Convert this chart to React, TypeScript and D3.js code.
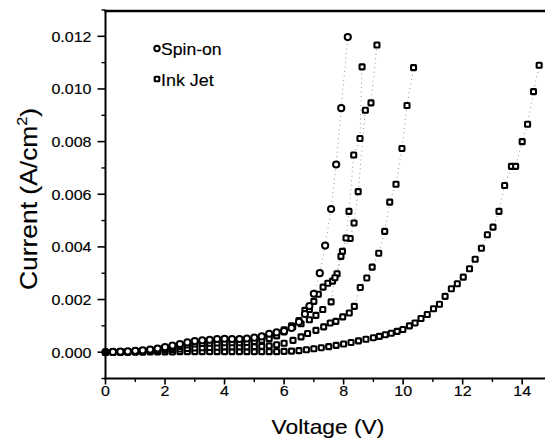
import React from "react";
import * as d3 from "d3";

// Current density values in mA/cm^2 (divided by 1000 for A/cm^2)
type Pt = [number, number];

const spinOn: Pt[] = [
  [0, 0], [0.25, 0.01], [0.5, 0.02], [0.75, 0.03], [1.0, 0.05], [1.25, 0.07], [1.5, 0.1], [1.75, 0.14],
  [2.0, 0.19], [2.25, 0.25], [2.5, 0.31], [2.75, 0.37], [3.0, 0.42], [3.25, 0.45], [3.5, 0.47], [3.75, 0.5],
  [4.0, 0.51], [4.25, 0.5], [4.5, 0.5], [4.75, 0.52], [5.0, 0.55], [5.25, 0.6], [5.5, 0.7], [5.75, 0.75],
  [6.0, 0.8], [6.25, 0.92], [6.5, 1.15], [6.7, 1.45], [6.85, 1.75], [7.0, 2.22], [7.2, 3.0], [7.38, 4.05],
  [7.58, 5.44], [7.75, 7.13], [7.92, 9.27], [8.14, 11.97],
];

const inkJetA: Pt[] = [
  [0, 0], [0.25, 0.01], [0.5, 0.01], [0.75, 0.02], [1.0, 0.03], [1.25, 0.05], [1.5, 0.07], [1.75, 0.1],
  [2.0, 0.14], [2.25, 0.18], [2.5, 0.22], [2.75, 0.27], [3.0, 0.31], [3.25, 0.33], [3.5, 0.34], [3.75, 0.35],
  [4.0, 0.36], [4.25, 0.36], [4.5, 0.36], [4.75, 0.37], [5.0, 0.4], [5.25, 0.45], [5.5, 0.52], [5.75, 0.62],
  [6.0, 0.77], [6.29, 0.96], [6.57, 1.08], [6.85, 1.23], [7.07, 1.4], [7.3, 1.62], [7.58, 1.91], [7.71, 2.83],
  [7.91, 3.64], [8.08, 4.34], [8.18, 5.35], [8.34, 7.49], [8.55, 8.12], [8.62, 10.84],
];

const inkJetB: Pt[] = [
  [0, 0], [0.25, 0.0], [0.5, 0.01], [0.75, 0.02], [1.0, 0.04], [1.25, 0.06], [1.5, 0.09], [1.75, 0.13],
  [2.0, 0.18], [2.25, 0.23], [2.5, 0.28], [2.75, 0.33], [3.0, 0.36], [3.25, 0.38], [3.5, 0.4], [3.75, 0.42],
  [4.0, 0.43], [4.25, 0.44], [4.5, 0.45], [4.75, 0.47], [5.0, 0.5], [5.25, 0.55], [5.5, 0.63], [5.75, 0.72],
  [6.0, 0.85], [6.25, 1.0], [6.5, 1.2], [6.7, 1.59], [6.85, 1.62], [7.0, 1.93], [7.15, 2.2], [7.31, 2.47],
  [7.47, 2.62], [7.63, 2.7], [7.78, 2.98], [7.96, 3.83], [8.22, 4.32], [8.35, 4.91], [8.49, 6.1], [8.73, 9.19],
  [8.92, 9.47], [9.12, 11.67],
];

const inkJetC: Pt[] = [
  [0, 0], [0.25, 0], [0.5, 0.01], [0.75, 0.01], [1.0, 0.02], [1.25, 0.03], [1.5, 0.04], [1.75, 0.06],
  [2.0, 0.08], [2.25, 0.1], [2.5, 0.12], [2.75, 0.14], [3.0, 0.16], [3.25, 0.17], [3.5, 0.18], [3.75, 0.19],
  [4.0, 0.2], [4.25, 0.2], [4.5, 0.2], [4.75, 0.2], [5.0, 0.21], [5.25, 0.22], [5.5, 0.24], [5.75, 0.28],
  [6.0, 0.34], [6.3, 0.45], [6.57, 0.58], [6.79, 0.71], [7.07, 0.83], [7.33, 0.96], [7.55, 1.11], [7.74, 1.17],
  [7.97, 1.34], [8.19, 1.49], [8.36, 1.74], [8.56, 2.46], [8.78, 2.82], [8.96, 3.23], [9.18, 3.76], [9.38, 4.59],
  [9.55, 5.7], [9.76, 6.38], [9.96, 7.74], [10.13, 9.37], [10.35, 10.81],
];

const inkJetD: Pt[] = [
  [0, 0], [0.25, 0], [0.5, 0], [0.75, 0], [1.0, 0], [1.25, 0], [1.5, 0.01], [1.75, 0.01], [2.0, 0.01],
  [2.25, 0.01], [2.5, 0.02], [2.75, 0.02], [3.0, 0.02], [3.25, 0.02], [3.5, 0.02], [3.75, 0.02], [4.0, 0.02],
  [4.25, 0.02], [4.5, 0.02], [4.75, 0.02], [5.0, 0.02], [5.25, 0.02], [5.5, 0.02], [5.75, 0.02], [6.0, 0.03],
  [6.25, 0.04], [6.5, 0.06], [6.75, 0.09], [7.0, 0.13], [7.25, 0.17], [7.5, 0.21], [7.75, 0.26], [8.0, 0.31],
  [8.25, 0.37], [8.5, 0.43], [8.75, 0.49], [9.0, 0.55], [9.2, 0.6], [9.4, 0.66], [9.6, 0.72], [9.8, 0.79],
  [9.99, 0.86], [10.21, 1.0], [10.4, 1.11], [10.6, 1.28], [10.81, 1.43], [11.02, 1.65], [11.22, 1.82],
  [11.41, 2.12], [11.62, 2.41], [11.82, 2.6], [12.02, 2.85], [12.23, 3.17], [12.42, 3.53], [12.63, 3.95],
  [12.83, 4.46], [13.02, 4.75], [13.22, 5.35], [13.41, 6.33], [13.64, 7.06], [13.78, 7.06], [14.0, 8.0],
  [14.18, 8.66], [14.38, 9.9], [14.57, 10.9],
];

const xMajorTicks = [0, 2, 4, 6, 8, 10, 12, 14];
const xMinorTicks = [1, 3, 5, 7, 9, 11, 13];
const yMajorTicks = [0, 0.002, 0.004, 0.006, 0.008, 0.01, 0.012];
const yMinorTicks = [-0.001, 0.001, 0.003, 0.005, 0.007, 0.009, 0.011, 0.013];

const xTitle = "Voltage (V)";
const yTitle = "Current (A/cm";
const legendLabels = ["Spin-on", "Ink Jet"];

const W = 545;
const H = 442;
const FONT = "'Liberation Sans', Arial, Helvetica, sans-serif";

const x = d3.scaleLinear().domain([0, 14.8]).range([105.5, 546]);
const y = d3.scaleLinear().domain([-0.001, 0.013]).range([378.5, 10]);
const toA = (v: number) => v / 1000;

const line = d3
  .line<Pt>()
  .x((d) => x(d[0]))
  .y((d) => y(toA(d[1])));

function SText(props: { x: number; y: number; sx?: number; rot?: number; anchor?: string; size: number; children: any; dy?: string }) {
  const { sx = 1.1, rot = 0, anchor = "start", size, dy } = props;
  return (
    <g transform={`translate(${props.x},${props.y}) rotate(${rot}) scale(${sx},1)`}>
      <text textAnchor={anchor} fontSize={size} fontFamily={FONT} fill="#000" stroke="#000" strokeWidth={0.15} dy={dy}>
        {props.children}
      </text>
    </g>
  );
}

const Circle = ({ cx, cy, r = 3.1 }: { cx: number; cy: number; r?: number }) => (
  <circle cx={cx} cy={cy} r={r} fill="#fff" stroke="#000" strokeWidth={2} />
);
const Square = ({ cx, cy, s = 5 }: { cx: number; cy: number; s?: number }) => (
  <rect x={cx - s / 2} y={cy - s / 2} width={s} height={s} rx={0.6} fill="#fff" stroke="#000" strokeWidth={2.1} />
);

export default function App() {
  const squareSeries = [inkJetD, inkJetC, inkJetB, inkJetA];
  const plotLeft = x(0);
  const plotBottom = y(-0.001);
  const plotTop = y(0.013);
  return (
    <svg width={W} height={H} style={{ position: "absolute", left: 0, top: 0, background: "#fff" }}>
      <rect width={W} height={H} fill="#fff" />
      {/* dotted connecting lines */}
      {[spinOn, ...squareSeries].map((s, i) => (
        <path key={"l" + i} d={line(s) || ""} fill="none" stroke="#888" strokeWidth={0.9} strokeDasharray="1 3.5" />
      ))}
      {/* markers */}
      {squareSeries.map((s, i) =>
        s.map((d, j) => <Square key={`s${i}-${j}`} cx={x(d[0])} cy={y(toA(d[1]))} />)
      )}
      {spinOn.map((d, j) => (
        <Circle key={`c${j}`} cx={x(d[0])} cy={y(toA(d[1]))} />
      ))}
      <circle cx={x(0)} cy={y(0)} r={3.2} fill="#000" />

      {/* axes frame */}
      <line x1={plotLeft} x2={plotLeft} y1={plotTop} y2={plotBottom + 1} stroke="#000" strokeWidth={2} />
      <line x1={plotLeft - 1} x2={W} y1={plotBottom} y2={plotBottom} stroke="#000" strokeWidth={2} />
      <line x1={plotLeft - 1} x2={W} y1={plotTop + 1} y2={plotTop + 1} stroke="#000" strokeWidth={2.5} />

      {/* x ticks */}
      {xMajorTicks.map((t) => (
        <g key={"xt" + t}>
          <line x1={x(t)} x2={x(t)} y1={plotBottom} y2={plotBottom + 6} stroke="#000" strokeWidth={1.6} />
          <SText x={x(t)} y={plotBottom + 17} anchor="middle" size={15} sx={1.07}>
            {t}
          </SText>
        </g>
      ))}
      {xMinorTicks.map((t) => (
        <line key={"xm" + t} x1={x(t)} x2={x(t)} y1={plotBottom} y2={plotBottom + 3.5} stroke="#000" strokeWidth={1.4} />
      ))}

      {/* y ticks */}
      {yMajorTicks.map((t) => (
        <g key={"yt" + t}>
          <line x1={plotLeft - 8} x2={plotLeft} y1={y(t)} y2={y(t)} stroke="#000" strokeWidth={1.6} />
          <SText x={plotLeft - 14} y={y(t)} anchor="end" size={15} sx={1.07} dy="0.36em">
            {d3.format(".3f")(t)}
          </SText>
        </g>
      ))}
      {yMinorTicks.map((t) => (
        <line key={"ym" + t} x1={plotLeft - 4} x2={plotLeft} y1={y(t)} y2={y(t)} stroke="#000" strokeWidth={1.4} />
      ))}

      {/* axis titles */}
      <SText x={328} y={434} anchor="middle" size={20} sx={1.14}>
        {xTitle}
      </SText>
      <g transform={`translate(37,199) rotate(-90) scale(1.15,1)`}>
        <text textAnchor="middle" fontSize={23} fontFamily={FONT} fill="#000" stroke="#000" strokeWidth={0.15}>
          {yTitle}
          <tspan fontSize={14} dy={-10}>2</tspan>
          <tspan dy={10}>)</tspan>
        </text>
      </g>

      {/* legend */}
      <Circle cx={157} cy={48.5} r={2.7} />
      <SText x={161} y={55} size={16} sx={1.1}>
        {legendLabels[0]}
      </SText>
      <Square cx={157} cy={79} s={4.6} />
      <SText x={161} y={86} size={16} sx={1.12}>
        {legendLabels[1]}
      </SText>
    </svg>
  );
}
